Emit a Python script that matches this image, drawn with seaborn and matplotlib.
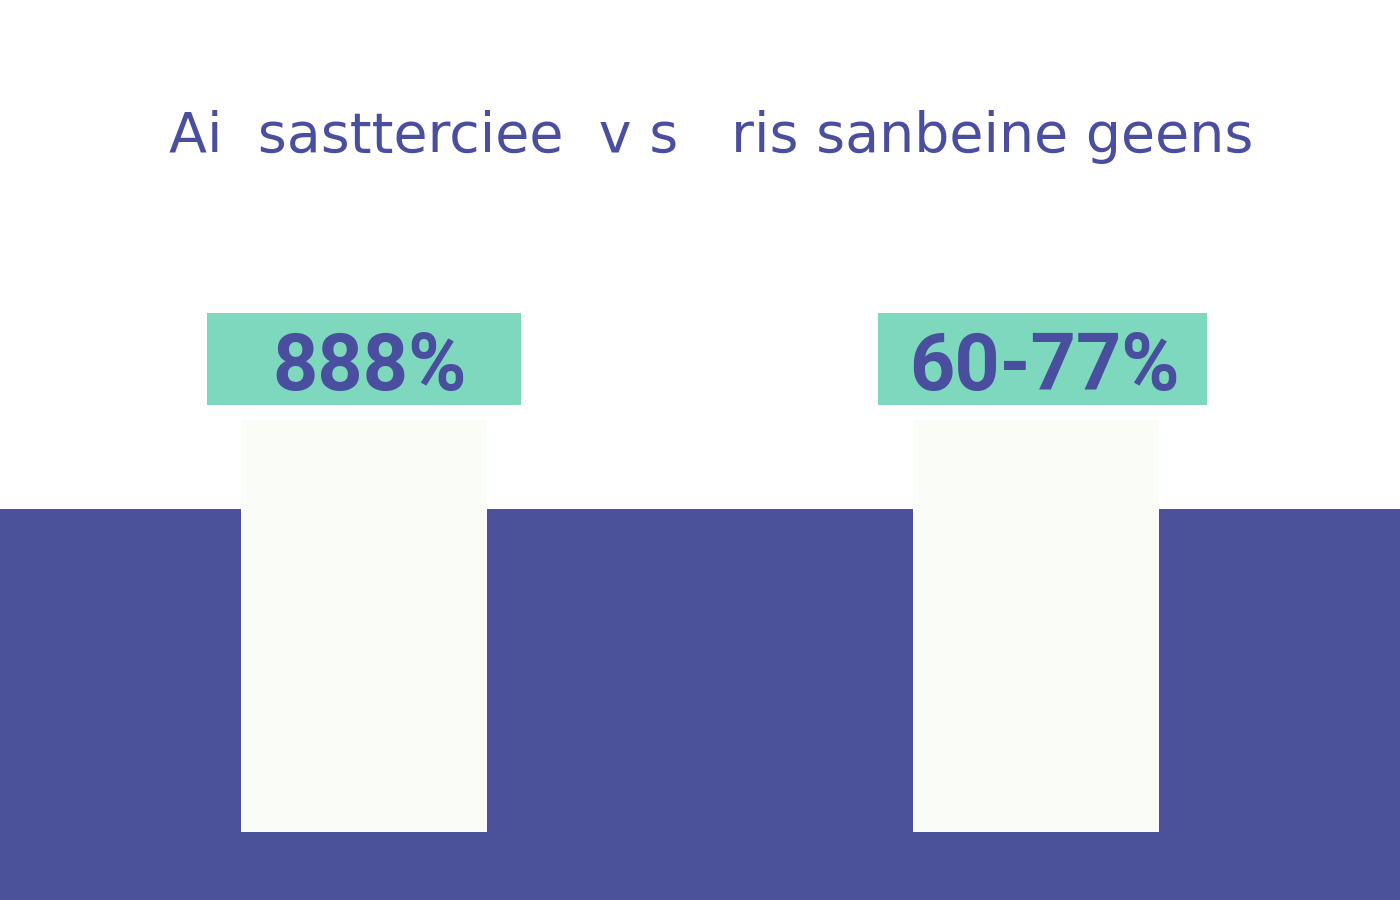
import matplotlib
matplotlib.use("Agg")
import matplotlib.pyplot as plt
import seaborn as sns
import pandas as pd
from matplotlib.patches import Rectangle

# ---- data ----
categories = ["A", "B"]
bar_values = [100, 100]
bar_labels = ["888%", "60-77%"]
title_text = "Ai  sastterciee  v s   ris sanbeine geens"

# ---- style ----
BLUE = "#4C5299"
TEXT = "#4A4E9F"
TEAL = "#7DD8BD"
BAR = "#FAFCF7"

sns.set_theme(style="white")
plt.rcParams["font.family"] = ["DejaVu Sans"]

fig = plt.figure(figsize=(14, 9), dpi=100)
fig.patch.set_facecolor("white")
ax = fig.add_axes([0, 0, 1, 1])
ax.set_facecolor("white")

df = pd.DataFrame({"cat": categories, "val": bar_values})

sns.barplot(data=df, x="cat", y="val", color=BAR, saturation=1,
            width=0.366, ax=ax, zorder=2, edgecolor="none")

ax.set_xlim(-0.5417, 1.5417)
ax.set_ylim(-16.5, 201.94)

# blue band behind the bars
ax.axhspan(-16.5, 78.4, color=BLUE, zorder=0, lw=0)

box_widths = [0.466, 0.49]
box_shift = [0.0, 0.0097]
for i, (v, lab) in enumerate(zip(bar_values, bar_labels)):
    w = box_widths[i]
    ax.add_patch(Rectangle((i - w / 2 + box_shift[i], v + 3.6), w, 22.3,
                           facecolor=TEAL, edgecolor="none", zorder=3))
    ax.text(i + (0.013 if i else 0.009), v + 3.6 + 9.0, lab, ha="center", va="center",
            fontsize=57, fontweight="bold", family=["Roboto", "DejaVu Sans"],
            color=TEXT, zorder=4)

ax.text(0.508, 0.848, title_text, transform=ax.transAxes, ha="center", va="center",
        fontsize=40, color=TEXT, family=["DejaVu Sans"])

ax.set_xlabel("")
ax.set_ylabel("")
ax.set_xticks([])
ax.set_yticks([])
for s in ax.spines.values():
    s.set_visible(False)

fig.savefig("out.png", dpi=100)
